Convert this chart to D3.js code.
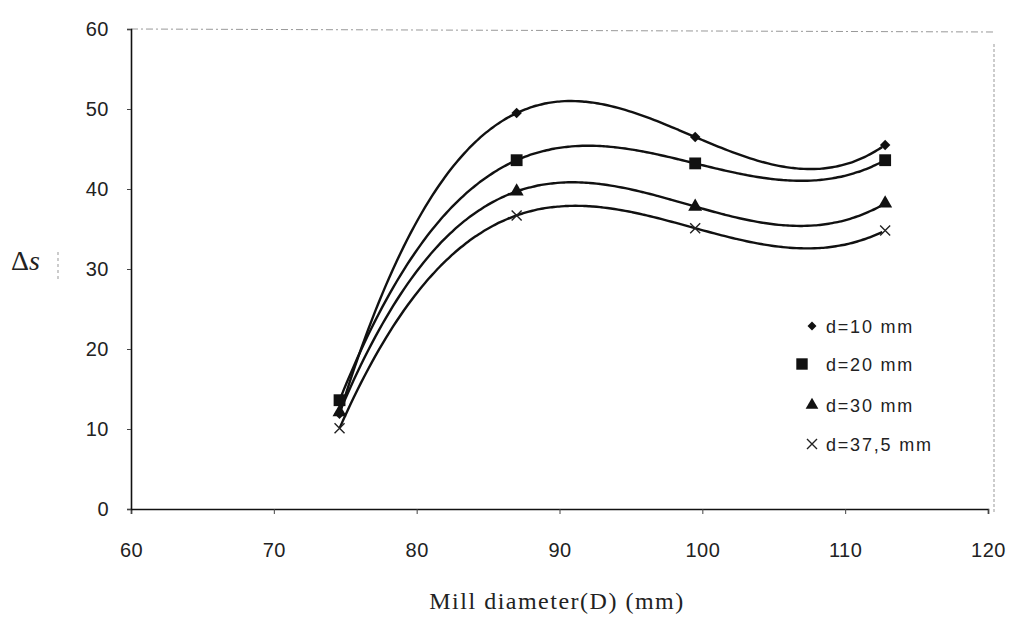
<!DOCTYPE html>
<html><head><meta charset="utf-8">
<script src="https://cdn.jsdelivr.net/npm/d3@7"></script>
<style>body{margin:0;background:#fff}</style>
</head><body>
<svg id="c" width="1018" height="628"></svg>
<script>
const xTicks = [60,70,80,90,100,110,120];
const yTicks = [0,10,20,30,40,50,60];
const D = [74.6, 87.0, 99.5, 112.8];
const seriesNames = ["d=10 mm","d=20 mm","d=30 mm","d=37,5 mm"];
const s10 = [11.9, 49.5, 46.5, 45.5];
const s20 = [13.6, 43.6, 43.2, 43.6];
const s30 = [12.1, 39.7, 37.8, 38.2];
const s375 = [10.1, 36.7, 35.1, 34.8];
const symbols = [d3.symbolSquare, d3.symbolSquare, d3.symbolTriangle, d3.symbolCross];

const svg = d3.select("#c");
const L=131, R=988, T=29, B=509;
const x = d3.scaleLinear().domain([60,120]).range([L,R]);
const y = d3.scaleLinear().domain([0,60]).range([B,T]);

// frame
svg.append("line").attr("x1",L).attr("x2",R+6).attr("y1",T).attr("y2",T+3).attr("stroke","#999").attr("stroke-dasharray","7,3,2,3").attr("stroke-width",1);
svg.append("line").attr("x1",R+6).attr("x2",R+6).attr("y1",T+15).attr("y2",B+5).attr("stroke","#999").attr("stroke-dasharray","3,2").attr("stroke-width",1);

const xa = svg.append("g").attr("transform",`translate(0,${B})`).call(d3.axisBottom(x).tickValues(xTicks).tickSize(5).tickPadding(29));
const ya = svg.append("g").attr("transform",`translate(${L},0)`).call(d3.axisLeft(y).tickValues(yTicks).tickSize(4).tickPadding(18));
[xa,ya].forEach(a=>{
  a.select(".domain").attr("stroke","#111").attr("stroke-width",1.6);
  a.selectAll(".tick line").attr("stroke","#444");
  a.selectAll("text").attr("font-family","Liberation Sans, Arial, sans-serif").attr("font-size",20).attr("letter-spacing",0.5).attr("fill","#222");
});

// cubic polynomial trendline (order 3, passes through the 4 points)
function cubicThrough(xs, ys){
  return t => {
    let s=0;
    for(let i=0;i<xs.length;i++){
      let p=ys[i];
      for(let j=0;j<xs.length;j++) if(j!==i) p*= (t-xs[j])/(xs[i]-xs[j]);
      s+=p;
    }
    return s;
  };
}
const allSeries=[s10,s20,s30,s375];
const line = d3.line().x(d=>x(d[0])).y(d=>y(d[1])).curve(d3.curveBasis);
allSeries.forEach(vals=>{
  const f = cubicThrough(D, vals);
  const pts = d3.range(D[0], D[D.length-1]+0.001, 0.25).map(t=>[t,f(t)]);
  svg.append("path").attr("d",line(pts)).attr("fill","none").attr("stroke","#111").attr("stroke-width",2.4);
});

// markers
const xMark = "M-5,-5L5,5M-5,5L5,-5";
const sizes=[55,140,85];
allSeries.forEach((vals,k)=>{
  const g = svg.selectAll(null).data(vals).enter().append("path")
    .attr("transform",(v,i)=>`translate(${x(D[i])},${y(v)})${k===0?" rotate(45)":""}`);
  if(k===3) g.attr("d",xMark).attr("fill","none").attr("stroke","#222").attr("stroke-width",1.4);
  else g.attr("d",d3.symbol().type(symbols[k]).size(sizes[k])).attr("fill","#111");
});

// legend
const lg = svg.append("g");
const legY=[326,364,405,444], legMX=[812,802,812,812];
seriesNames.forEach((n,k)=>{
  const yy = legY[k];
  if(k===3){
    lg.append("path").attr("transform",`translate(${legMX[k]},${yy})`).attr("d","M-5,-5L5,5M-5,5L5,-5").attr("stroke","#222").attr("stroke-width",1.4);
  } else {
    lg.append("path").attr("transform",`translate(${legMX[k]},${yy})${k===0?" rotate(45)":""}`).attr("d",d3.symbol().type(symbols[k]).size([40,130,70][k])).attr("fill","#111");
  }
  lg.append("text").attr("x",826).attr("y",yy+7).text(n).attr("font-family","Liberation Sans, Arial, sans-serif").attr("font-size",18).attr("letter-spacing",1.8).attr("fill","#222");
});

// titles
svg.append("text").attr("x",557).attr("y",609).attr("text-anchor","middle").attr("font-family","Liberation Serif, Times New Roman, serif").attr("font-size",24).attr("letter-spacing",1.5).attr("fill","#222").text("Mill diameter(D) (mm)");
const yt = svg.append("text").attr("x",11).attr("y",270).attr("font-family","Liberation Serif, Times New Roman, serif").attr("font-size",28).attr("fill","#222");
yt.append("tspan").text("Δ");
yt.append("tspan").attr("font-style","italic").text("s");
svg.append("line").attr("x1",58).attr("x2",58).attr("y1",252).attr("y2",281).attr("stroke","#aaa").attr("stroke-dasharray","3,3").attr("stroke-width",1.2);
</script>
</body></html>
